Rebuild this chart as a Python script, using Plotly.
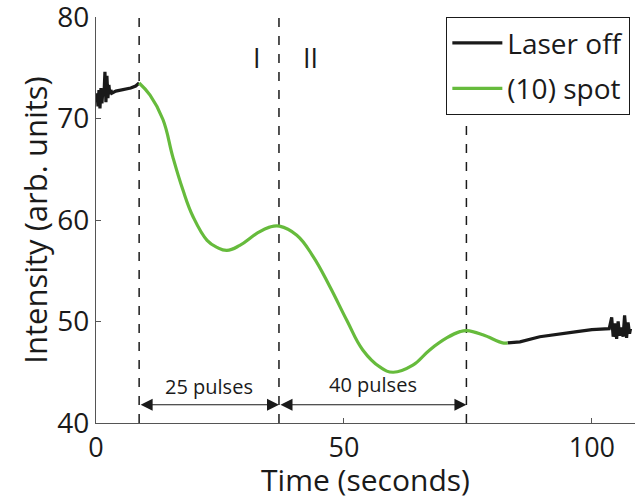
import plotly.graph_objects as go

# ---- data ----
off_start_t = [0.2, 0.4, 0.6, 0.8, 1.0, 1.2, 1.4, 1.6, 1.8, 2.0, 2.2, 2.4, 2.6, 2.8, 3.0, 3.2,
               4.0, 5.0, 6.0, 7.0, 8.0, 8.7]
off_start_i = [72.5, 71.2, 72.8, 71.0, 73.0, 71.5, 72.9, 72.2, 74.6, 71.6, 74.2, 72.0, 73.3, 72.4, 72.8, 72.5,
               72.7, 72.8, 72.9, 73.0, 73.2, 73.5]

spot_t = [8.7, 10.9, 13.5, 15.5, 17.5, 19.6, 22.4, 24.4, 26.4, 29.0, 32.5, 35.0, 37.0,
          40.5, 43.8, 47.2, 50.6, 53.8, 57.3, 59.9, 63.9, 67.3, 70.8, 73.4, 74.8, 78.0, 82.0, 83.0]
spot_i = [73.5, 72.3, 69.9, 66.2, 63.0, 60.3, 58.0, 57.3, 57.0, 57.5, 58.7, 59.3, 59.4,
          58.5, 56.4, 53.4, 50.1, 47.2, 45.5, 45.0, 45.7, 47.2, 48.4, 49.0, 49.1, 48.7, 47.9, 47.9]

off_end_t = [83.0, 85.5, 89.5, 93.5, 97.0, 100.0, 103.5, 104.0, 104.3, 104.6, 105.0, 105.3, 105.6,
             106.0, 106.3, 106.6, 107.0, 107.3, 107.6, 107.8]
off_end_i = [47.9, 48.0, 48.5, 48.8, 49.0, 49.2, 49.3, 50.4, 48.5, 49.8, 48.3, 50.0, 48.6,
             49.4, 48.5, 50.6, 48.4, 49.9, 48.8, 49.3]

event_t = [8.7, 36.9, 74.7]
event_top = [80.0, 80.0, 69.7]

phase_labels = ["I", "II"]
pulse_labels = ["25 pulses", "40 pulses"]

x_ticks = [0, 50, 100]
y_ticks = [40, 50, 60, 70, 80]

FONT = "Open Sans"
BLACK = "#1a1a1a"
GREEN = "#66bb3c"

fig = go.Figure()

fig.add_trace(go.Scatter(
    x=off_start_t + [None] + off_end_t,
    y=off_start_i + [None] + off_end_i,
    mode="lines", name="Laser off", legendgroup="off",
    line=dict(color=BLACK, width=3.2), connectgaps=False,
))
fig.add_trace(go.Scatter(
    x=spot_t, y=spot_i, mode="lines", name="(10) spot", legendgroup="spot",
    line=dict(color=GREEN, width=3.2, shape="spline", smoothing=1.2),
))

shapes = []
for t, top in zip(event_t, event_top):
    shapes.append(dict(type="line", xref="x", yref="y", x0=t, x1=t, y0=40, y1=top,
                       line=dict(color=BLACK, width=1.5, dash="dash"), layer="below"))

annotations = [
    dict(x=32.5, y=76.0, text=phase_labels[0], showarrow=False, font=dict(size=27, color=BLACK, family=FONT)),
    dict(x=43.3, y=76.0, text=phase_labels[1], showarrow=False, font=dict(size=27, color=BLACK, family=FONT)),
    dict(x=(event_t[0] + event_t[1]) / 2, y=43.6, text=pulse_labels[0], showarrow=False,
         font=dict(size=20, color=BLACK, family=FONT)),
    dict(x=(event_t[1] + event_t[2]) / 2, y=43.8, text=pulse_labels[1], showarrow=False,
         font=dict(size=20, color=BLACK, family=FONT)),
]
for a, b in [(event_t[0], event_t[1]), (event_t[1], event_t[2])]:
    annotations.append(dict(x=b, y=41.8, ax=a, ay=41.8, xref="x", yref="y", axref="x", ayref="y",
                            text="", showarrow=True, arrowhead=2, startarrowhead=2,
                            arrowside="end+start", arrowsize=2.0, startarrowsize=2.0,
                            arrowwidth=1.2, arrowcolor=BLACK))

fig.update_layout(
    width=635, height=500,
    margin=dict(l=96, r=0, t=17, b=77, autoexpand=False),
    paper_bgcolor="white", plot_bgcolor="white",
    font=dict(family=FONT, size=28, color=BLACK),
    showlegend=True,
    legend=dict(x=0.991, y=1.0, xanchor="right", yanchor="top",
                bordercolor=BLACK, borderwidth=1.2, bgcolor="white",
                font=dict(size=28, family=FONT, color=BLACK),
                tracegroupgap=6, itemwidth=50),
    shapes=shapes,
    annotations=annotations,
)
fig.update_xaxes(range=[0, 108.7], tickvals=x_ticks, ticks="inside", ticklen=5,
                 tickcolor="#555", showline=True, linecolor="#555", linewidth=1.2,
                 showgrid=False, zeroline=False, mirror=False, automargin=False,
                 ticklabeloverflow="allow",
                 title=dict(text="Time (seconds)", standoff=0, font=dict(size=30)),
                 tickfont=dict(size=27))
fig.update_yaxes(range=[40, 80], tickvals=y_ticks, ticks="inside", ticklen=5,
                 tickcolor="#555", showline=True, linecolor="#555", linewidth=1.2,
                 showgrid=False, zeroline=False, mirror=False, automargin=False,
                 ticklabeloverflow="allow",
                 title=dict(text="Intensity (arb. units)", standoff=0, font=dict(size=31)),
                 tickfont=dict(size=28))

fig.write_html("out.html", config={"displayModeBar": False},
               post_script="document.body.style.margin='0';document.body.style.overflow='hidden';")
